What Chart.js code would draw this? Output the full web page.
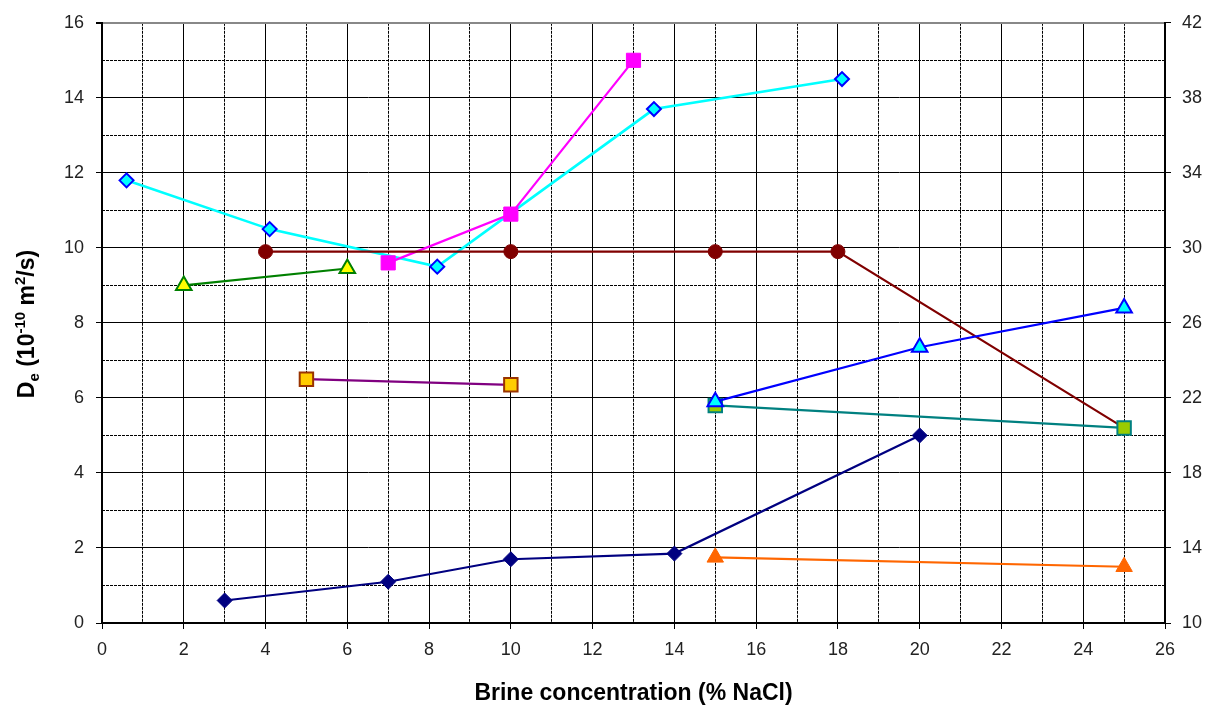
<!DOCTYPE html>
<html>
<head>
<meta charset="utf-8">
<script src="https://cdn.jsdelivr.net/npm/chart.js@4.4.1/dist/chart.umd.min.js"></script>
<style>
  body { margin: 0; background: #fff; }
</style>
</head>
<body>
<canvas id="myChart" width="1210" height="708"></canvas>
<script>
// brine concentration (% NaCl) vs De (10^-10 m2/s), one pair of arrays per series
var cyanConc = [0.6, 4.1, 8.2, 13.5, 18.1];
var cyanDe = [11.8, 10.5, 9.5, 13.7, 14.5];
var magentaConc = [7, 10, 13];
var magentaDe = [9.6, 10.9, 15.0];
var redConc = [4, 10, 15, 18, 25];
var redDe = [9.9, 9.9, 9.9, 9.9, 5.2];
var greenConc = [2, 6];
var greenDe = [9.0, 9.45];
var purpleConc = [5, 10];
var purpleDe = [6.5, 6.35];
var blueConc = [15, 20, 25];
var blueDe = [5.9, 7.35, 8.4];
var tealConc = [15, 25];
var tealDe = [5.8, 5.2];
var navyConc = [3, 7, 10, 14, 20];
var navyDe = [0.6, 1.1, 1.7, 1.85, 5.0];
var orangeConc = [15, 25];
var orangeDe = [1.75, 1.5];

var FONT = '"Liberation Sans", Arial, sans-serif';

function pts(xs, ys) {
  return xs.map(function (x, i) { return { x: x, y: ys[i] }; });
}

function serie(xs, ys, line, fill, border, style, radius, bw) {
  return {
    data: pts(xs, ys),
    borderColor: line,
    borderWidth: 2.2,
    pointStyle: style,
    pointRadius: radius,
    pointBackgroundColor: fill,
    pointBorderColor: border,
    pointBorderWidth: bw,
    tension: 0
  };
}

// rich y axis title (subscript / superscripts)
var yTitle = {
  id: 'yTitle',
  afterDraw: function (chart) {
    var c = chart.ctx;
    var parts = [['D', 23, 0], ['e', 15, 5], [' (10', 23, 0], ['-10', 15, -9],
                 [' m', 23, 0], ['2', 15, -9], ['/s)', 23, 0]];
    c.save();
    c.translate(34, 324);
    c.rotate(-Math.PI / 2);
    c.fillStyle = '#000';
    c.textBaseline = 'alphabetic';
    var total = 0;
    parts.forEach(function (p) {
      c.font = 'bold ' + p[1] + 'px ' + FONT;
      total += c.measureText(p[0]).width;
    });
    var x = -total / 2;
    parts.forEach(function (p) {
      c.font = 'bold ' + p[1] + 'px ' + FONT;
      c.fillText(p[0], x, p[2]);
      x += c.measureText(p[0]).width;
    });
    c.restore();
  }
};

var ctx = document.getElementById('myChart').getContext('2d');
var red = serie(redConc, redDe, '#800000', '#800000', '#800000', 'circle', 7, 1);
red.pointRadius = function (c) { return c.dataIndex === redConc.length - 1 ? 0 : 7; };
var cyan = serie(cyanConc, cyanDe, '#00FFFF', '#00FFFF', '#0000FF', 'rectRot', 7, 2);
cyan.borderWidth = 2.6;

var myChart = new Chart(ctx, {
  type: 'line',
  data: {
    datasets: [
      serie(blueConc, blueDe, '#0000FF', '#00FFFF', '#0000FF', 'triangle', 9, 2),
      serie(tealConc, tealDe, '#008080', '#99CC00', '#008080', 'rect', 9.5, 2),
      red,
      serie(magentaConc, magentaDe, '#FF00FF', '#FF00FF', '#FF00FF', 'rect', 10, 1),
      cyan,
      serie(greenConc, greenDe, '#008000', '#FFFF00', '#008000', 'triangle', 9, 2),
      serie(purpleConc, purpleDe, '#800080', '#FFCC00', '#993300', 'rect', 9.5, 2),
      serie(navyConc, navyDe, '#000080', '#000080', '#000080', 'rectRot', 7.5, 1),
      serie(orangeConc, orangeDe, '#FF6600', '#FF6600', '#FF6600', 'triangle', 9.5, 1)
    ]
  },
  options: {
    responsive: false,
    animation: false,
    devicePixelRatio: 1,
    layout: { padding: { top: 20, left: 0, right: 0, bottom: 0 } },
    plugins: { legend: { display: false }, tooltip: { enabled: false } },
    scales: {
      x: {
        type: 'linear', position: 'bottom', min: 0, max: 26,
        ticks: { stepSize: 2, color: '#222', font: { family: FONT, size: 18 }, padding: 10, maxRotation: 0, autoSkip: false },
        grid: { color: '#000', lineWidth: 1, tickLength: 6, tickColor: '#000' },
        border: { color: '#000', width: 2 },
        title: { display: true, text: 'Brine concentration (% NaCl)', color: '#000',
                 font: { family: FONT, size: 23, weight: 'bold' }, padding: { top: 4, bottom: 1 } },
        afterFit: function (s) { s.height = 85; }
      },
      xMinor: {
        type: 'linear', position: 'bottom', min: 0, max: 26,
        ticks: { stepSize: 1, display: false },
        grid: { drawTicks: false, lineWidth: 1,
                color: function (c) { return c.tick.value % 2 === 1 ? '#000' : 'rgba(0,0,0,0)'; } },
        border: { display: false, dash: [3, 1] }
      },
      y: {
        position: 'left', min: 0, max: 16,
        ticks: { stepSize: 2, color: '#222', font: { family: FONT, size: 18 }, padding: 12 },
        grid: { tickLength: 6, tickColor: '#000',
                color: function (c) { return c.tick.value === 16 ? '#888' : '#000'; },
                lineWidth: function (c) { return c.tick.value === 16 ? 2 : 1; } },
        border: { color: '#000', width: 2 },
        afterFit: function (s) { s.width = 102; }
      },
      yMinor: {
        position: 'left', min: 0, max: 16,
        ticks: { stepSize: 1, display: false },
        grid: { drawTicks: false, lineWidth: 1,
                color: function (c) { return c.tick.value % 2 === 1 ? '#000' : 'rgba(0,0,0,0)'; } },
        border: { display: false, dash: [3, 1] }
      },
      yR: {
        position: 'right', min: 10, max: 42,
        ticks: { stepSize: 4, color: '#222', font: { family: FONT, size: 18 }, padding: 11 },
        grid: { drawOnChartArea: false, tickLength: 6, tickColor: '#000' },
        border: { color: '#000', width: 2 },
        afterFit: function (s) { s.width = 45; }
      }
    }
  },
  plugins: [yTitle]
});
</script>
</body>
</html>
